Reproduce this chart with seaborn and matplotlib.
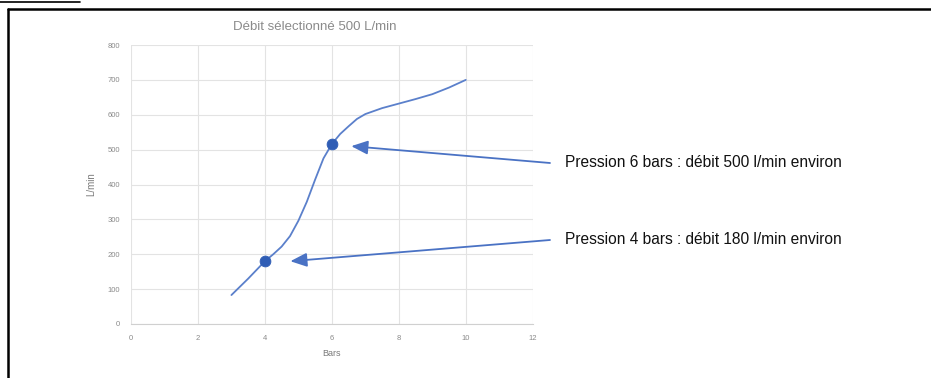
import matplotlib
matplotlib.use("Agg")
import matplotlib.pyplot as plt
from matplotlib.lines import Line2D
import pandas as pd
import seaborn as sns

# Courbe (bars -> L/min)
pression = [3, 3.5, 4, 4.25, 4.5, 4.75, 5, 5.25, 5.5, 5.75, 6, 6.25, 6.5, 6.75, 7, 7.5, 8, 8.5, 9, 9.5, 10]
debit = [83, 130, 180, 200, 222, 252, 296, 350, 414, 475, 516, 545, 567, 588, 602, 619, 632, 645, 659, 678, 700]

# Points remarquables
pts_pression = [4, 6]
pts_debit = [180, 516]
annotations = ["Pression 4 bars : débit 180 l/min environ",
               "Pression 6 bars : débit 500 l/min environ"]

x_ticks = [0, 2, 4, 6, 8, 10, 12]
y_ticks = [0, 100, 200, 300, 400, 500, 600, 700, 800]

df = pd.DataFrame({"Bars": pression, "L/min": debit})
df_pts = pd.DataFrame({"Bars": pts_pression, "L/min": pts_debit})

sns.set_style("white")
plt.rcParams["font.family"] = ["Liberation Sans", "DejaVu Sans"]

fig = plt.figure(figsize=(9.31, 3.78), dpi=100)
ax = fig.add_axes([0.1407, 0.1429, 0.4315, 0.738])

sns.lineplot(data=df, x="Bars", y="L/min", ax=ax, color="#5B80CB", linewidth=1.3, sort=False)
sns.scatterplot(data=df_pts, x="Bars", y="L/min", ax=ax, color="#2F5DB5", s=60,
                edgecolor="#2F5DB5", zorder=5)

ax.set_xlim(0, 12)
ax.set_ylim(0, 800)
ax.set_xticks(x_ticks)
ax.set_yticks(y_ticks)
ax.grid(True, color="#E3E3E3", linewidth=0.8)
for s in ["top", "right", "left"]:
    ax.spines[s].set_visible(False)
ax.spines["bottom"].set_color("#D0D0D0")
ax.spines["bottom"].set_linewidth(0.8)
ax.tick_params(axis="both", length=0, labelsize=5.5, labelcolor="#8A8A8A", pad=8)
ax.set_xlabel("Bars", fontsize=6.5, color="#7A7A7A", labelpad=5)
ax.set_ylabel("L/min", fontsize=7, color="#7A7A7A", labelpad=8)
ax.set_title("Débit sélectionné 500 L/min", fontsize=9.5, color="#8A8A8A", pad=11, x=0.458)

# flèches et textes
heads = [(4.76, 180), (6.58, 510)]
tails = [(550 / 931, 1 - 240 / 378), (550 / 931, 1 - 163 / 378)]
for (hx, hy), (tx, ty), txt in zip(heads, tails, annotations):
    ax.annotate("", xy=(hx, hy), xycoords="data", xytext=(tx, ty), textcoords="figure fraction",
                arrowprops=dict(arrowstyle="-|>,head_length=1.0,head_width=0.42",
                                color="#4A72C4", lw=1.3, shrinkA=0, shrinkB=0))
    fig.text(tx + 15 / 931, ty, txt, fontsize=11.2, color="#111111", va="center", ha="left")

# cadre du document
fig.add_artist(Line2D([8 / 931, 1], [1 - 9 / 378, 1 - 9 / 378], color="black", lw=1.8,
                      transform=fig.transFigure))
fig.add_artist(Line2D([8 / 931, 8 / 931], [0, 1 - 9 / 378], color="black", lw=1.8,
                      transform=fig.transFigure))
fig.add_artist(Line2D([0, 80 / 931], [1 - 1.5 / 378, 1 - 1.5 / 378], color="black", lw=1.2,
                      transform=fig.transFigure))

fig.savefig("out.png", dpi=100)
